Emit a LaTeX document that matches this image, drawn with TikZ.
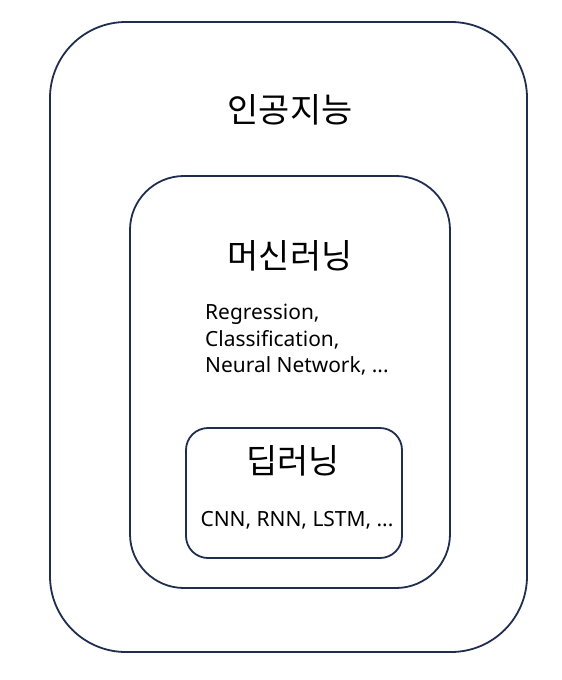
\documentclass[tikz,border=0pt]{standalone}
\usepackage{fontspec}
\setmainfont{Noto Sans}
\newfontfamily\kofont{Noto Sans CJK KR}
\definecolor{boxnavy}{RGB}{31,45,78}
\usetikzlibrary{positioning}

\begin{document}
\begin{tikzpicture}[x=1bp,y=-1bp,
  aibox/.style={draw=boxnavy,line width=1.8bp,inner sep=0pt},
  kotitle/.style={font=\kofont\fontsize{34}{40}\selectfont,inner sep=0pt},
  examples/.style={font=\fontsize{21}{26.5}\selectfont,inner sep=0pt}
]
  \useasboundingbox (0,0) rectangle (562,680);

  % nested boxes
  \node[aibox,rounded corners=76bp,minimum width=477bp,minimum height=630bp] (ai) at (288.5,337) {};
  \node[aibox,rounded corners=54bp,minimum width=320bp,minimum height=412bp] (ml) at (290,382) {};
  \node[aibox,rounded corners=22bp,minimum width=216bp,minimum height=130bp] (dl) at (294,493) {};

  % titles
  \node[kotitle] (aititle) at (290,110) {인공지능};
  \node[kotitle] (mltitle) at (290,256) {머신러닝};
  \node[kotitle] (dltitle) at (293,461) {딥러닝};

  % examples
  \node[examples,align=left,anchor=base west] (mlex) at (205,372.5) {Regression,\\Classification,\\Neural Network, ...};
  \node[examples] (dlex) at (297,520) {CNN, RNN, LSTM, ...};
\end{tikzpicture}
\end{document}
